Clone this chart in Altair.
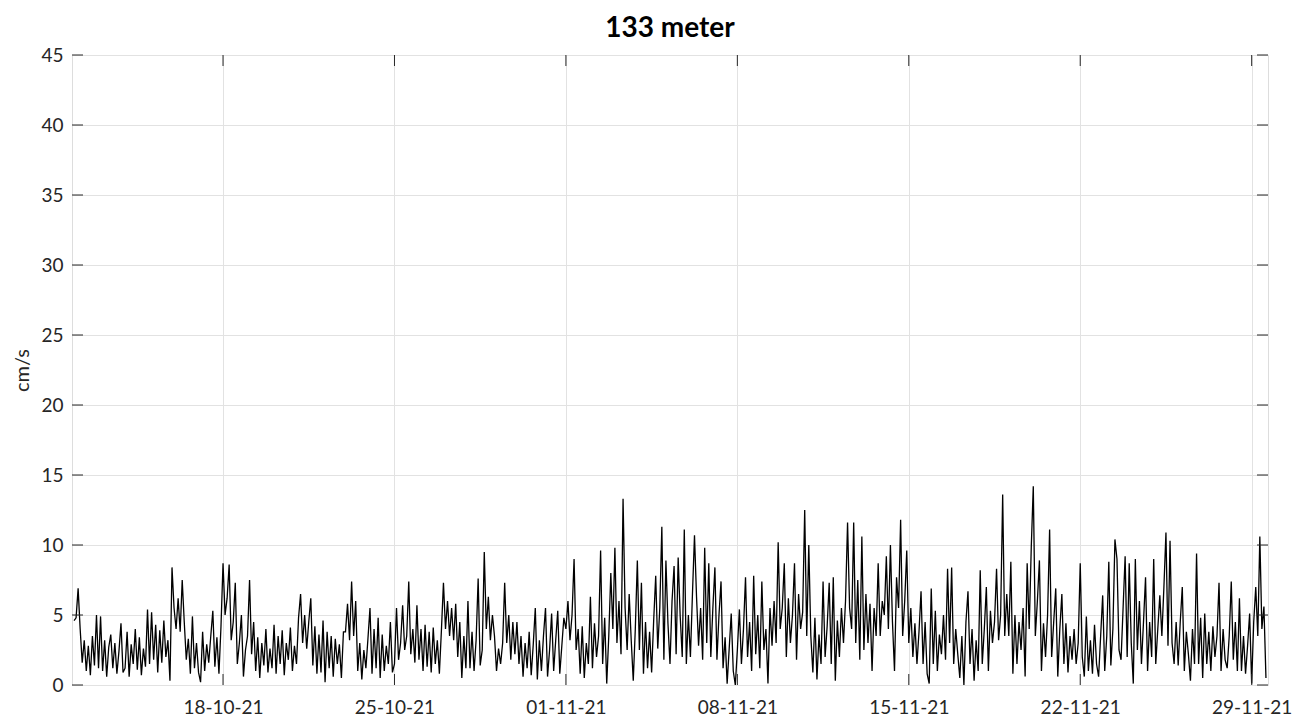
import altair as alt
import pandas as pd

TITLE = "133 meter"
Y_LABEL = "cm/s"
STEP_HOURS = 2
Y_TICKS = [0, 5, 10, 15, 20, 25, 30, 35, 40, 45]
X_TICKS = ["2021-10-18T00:00:00", "2021-10-25T00:00:00", "2021-11-01T00:00:00",
           "2021-11-08T00:00:00", "2021-11-15T00:00:00", "2021-11-22T00:00:00",
           "2021-11-29T00:00:00"]

# current speed (cm/s), 2-hourly readings (00h, 02h, ... 22h)
first_day = "2021-10-11"
day0 = [None] * 11 + [4.6]
week1 = [
    [4.8, 6.9, 4.0, 1.6, 3.2, 1.0, 2.8, 0.7, 3.5, 1.4, 5.0, 1.2],   # 12-10
    [4.9, 1.0, 3.2, 0.6, 2.7, 3.6, 1.2, 3.0, 0.8, 2.4, 4.4, 0.9],   # 13-10
    [1.2, 3.8, 0.6, 2.9, 1.5, 4.0, 1.1, 3.4, 0.7, 2.6, 1.3, 5.4],   # 14-10
    [1.5, 5.2, 1.8, 4.3, 0.9, 3.9, 1.6, 4.6, 2.0, 3.2, 0.3, 8.4],   # 15-10
    [5.5, 4.0, 6.2, 3.8, 7.5, 4.5, 1.8, 3.3, 0.8, 4.9, 1.2, 3.0],   # 16-10
    [0.9, 0.2, 3.8, 1.0, 2.9, 1.6, 3.5, 5.3, 1.3, 3.4, 0.8, 4.2],   # 17-10
]
week2 = [
    [8.7, 5.0, 6.2, 8.6, 3.2, 4.5, 7.3, 1.5, 3.0, 5.0, 0.6, 2.5],   # 18-10
    [3.5, 7.5, 2.2, 4.5, 1.0, 3.4, 0.5, 3.0, 1.4, 4.0, 0.9, 2.6],   # 19-10
    [1.2, 4.3, 0.8, 3.5, 1.5, 3.9, 0.7, 3.0, 1.8, 4.1, 1.0, 2.8],   # 20-10
    [1.5, 4.8, 6.5, 3.0, 5.0, 2.6, 4.5, 6.2, 1.4, 4.2, 0.8, 3.6],   # 21-10
    [0.9, 4.6, 0.2, 3.8, 1.2, 3.5, 0.6, 3.3, 1.5, 2.9, 0.5, 3.8],   # 22-10
    [3.8, 5.8, 3.2, 7.4, 3.5, 6.0, 1.0, 3.0, 0.4, 2.5, 1.2, 3.3],   # 23-10
    [5.5, 0.8, 4.0, 1.2, 4.8, 0.5, 3.6, 1.0, 2.8, 1.5, 4.5, 0.9],   # 24-10
]
week3 = [
    [1.5, 5.5, 1.8, 3.0, 5.7, 2.5, 3.5, 7.4, 2.2, 4.0, 1.6, 5.7],   # 25-10
    [1.8, 4.0, 1.0, 4.3, 1.3, 3.8, 0.9, 4.1, 1.5, 3.2, 0.8, 3.9],   # 26-10
    [7.3, 4.0, 6.0, 3.5, 5.5, 3.2, 5.8, 2.0, 4.5, 0.5, 3.5, 1.2],   # 27-10
    [6.0, 1.2, 3.8, 1.0, 3.2, 7.6, 1.4, 2.5, 9.5, 4.0, 6.3, 3.2],   # 28-10
    [5.0, 3.5, 1.0, 2.6, 1.5, 3.0, 7.3, 3.0, 5.0, 1.8, 4.5, 2.2],   # 29-10
    [4.5, 1.5, 3.5, 0.6, 3.0, 1.2, 3.8, 0.7, 2.9, 5.5, 0.4, 3.2],   # 30-10
    [1.0, 3.5, 5.5, 0.6, 2.5, 5.1, 1.0, 3.2, 5.3, 0.8, 2.8, 4.8],   # 31-10
]
week4 = [
    [4.0, 6.0, 3.2, 5.0, 9.0, 2.5, 4.0, 0.8, 4.2, 0.5, 3.0, 1.5],   # 01-11
    [6.3, 1.2, 4.4, 2.0, 3.5, 9.6, 1.5, 4.8, 0.1, 3.5, 8.0, 4.0],   # 02-11
    [9.8, 3.0, 6.0, 2.2, 13.3, 5.5, 2.5, 6.5, 3.2, 0.3, 4.0, 8.9],  # 03-11
    [2.5, 7.3, 0.8, 4.5, 1.2, 3.8, 0.9, 4.6, 7.8, 2.6, 5.5, 11.3],  # 04-11
    [1.8, 8.9, 4.4, 1.5, 6.0, 8.5, 2.2, 9.1, 4.9, 2.0, 11.1, 1.5],  # 05-11
    [5.0, 2.0, 6.5, 10.7, 6.3, 2.8, 5.5, 1.8, 9.8, 3.0, 8.7, 2.0],  # 06-11
    [5.5, 8.4, 1.8, 5.0, 7.4, 1.2, 3.4, 0.1, 2.6, 5.1, 1.0, 0.0],   # 07-11
]
week5 = [
    [2.5, 5.4, 1.5, 4.0, 7.7, 2.0, 4.5, 1.0, 7.8, 2.2, 5.0, 1.2],   # 08-11
    [7.4, 2.5, 4.0, 0.1, 5.5, 2.8, 6.0, 3.0, 10.2, 4.0, 5.5, 8.7],  # 09-11
    [2.0, 6.2, 3.0, 5.0, 8.7, 1.8, 6.5, 4.0, 5.2, 12.5, 3.5, 10.0], # 10-11
    [3.5, 0.9, 4.8, 0.4, 3.6, 1.5, 7.4, 2.0, 4.2, 7.3, 1.5, 7.7],   # 11-11
    [0.3, 4.6, 2.0, 5.5, 3.0, 6.0, 11.6, 5.5, 4.0, 11.6, 3.0, 7.5], # 12-11
    [1.8, 10.6, 2.5, 6.5, 3.0, 5.8, 1.0, 5.5, 3.5, 8.7, 3.5, 6.0],  # 13-11
    [5.0, 9.2, 4.0, 10.0, 4.5, 1.0, 7.7, 5.5, 11.8, 3.5, 6.0, 9.6], # 14-11
]
week6 = [
    [3.0, 5.5, 2.0, 4.4, 1.5, 3.8, 6.7, 1.5, 4.5, 0.8, 0.1, 6.9],   # 15-11
    [1.5, 5.3, 1.0, 3.6, 2.2, 5.0, 1.8, 8.3, 3.0, 8.4, 1.5, 4.0],   # 16-11
    [2.2, 0.5, 3.5, 0.0, 4.5, 6.7, 1.5, 4.0, 0.3, 3.2, 1.0, 8.2],   # 17-11
    [1.5, 4.0, 7.0, 1.0, 5.3, 3.0, 4.5, 8.3, 3.2, 5.0, 13.6, 3.5],  # 18-11
    [6.5, 3.5, 8.8, 0.8, 5.0, 1.5, 4.5, 2.5, 5.5, 0.6, 8.7, 4.0],   # 19-11
    [9.8, 14.2, 3.5, 6.0, 8.9, 1.0, 4.4, 2.0, 5.0, 11.1, 2.0, 4.5], # 20-11
    [6.9, 0.6, 4.0, 6.5, 1.5, 4.4, 0.9, 3.5, 1.8, 4.0, 1.5, 3.0],   # 21-11
]
week7 = [
    [8.7, 2.0, 0.6, 4.9, 1.0, 3.2, 0.8, 4.3, 1.5, 0.6, 3.5, 6.4],   # 22-11
    [1.0, 3.5, 8.8, 1.4, 4.0, 10.4, 9.0, 2.5, 1.8, 5.5, 9.2, 2.0],  # 23-11
    [8.7, 3.0, 0.1, 9.0, 2.5, 6.0, 1.5, 4.5, 7.7, 1.0, 4.5, 2.0],   # 24-11
    [9.0, 1.5, 4.0, 6.4, 3.5, 7.0, 10.9, 2.8, 10.3, 3.0, 1.5, 4.5], # 25-11
    [1.4, 4.5, 7.0, 1.0, 3.8, 2.2, 0.3, 4.0, 1.5, 9.4, 1.5, 4.8],   # 26-11
    [0.5, 5.1, 1.5, 3.8, 1.0, 4.2, 2.0, 3.5, 7.3, 1.0, 4.0, 1.8],   # 27-11
    [1.2, 3.5, 7.4, 1.8, 4.5, 1.0, 6.2, 1.0, 3.5, 0.8, 2.8, 5.1],   # 28-11
]
last_day = [0.1, 4.5, 7.0, 3.5, 10.6, 4.0, 5.6, 0.5]               # 29-11

days = [day0] + week1 + week2 + week3 + week4 + week5 + week6 + week7 + [last_day]
rows = []
base = pd.Timestamp(first_day)
for d, vals in enumerate(days):
    for i, v in enumerate(vals):
        if v is None:
            continue
        ts = base + pd.Timedelta(days=d, hours=STEP_HOURS * i)
        rows.append({"t": ts.strftime("%Y-%m-%dT%H:%M:%S"), "v": v})
df = pd.DataFrame(rows)
xt_df = pd.DataFrame({"t": X_TICKS})
yt_df = pd.DataFrame({"v": Y_TICKS})

W, H = 1196, 630
TICK = 11
GRID = "#e2e2e2"
AXC = "#262626"

x_scale = alt.Scale(domain=[alt.DateTime(year=2021, month=10, date=11, hours=20),
                            alt.DateTime(year=2021, month=11, date=29, hours=16)])
y_scale = alt.Scale(domain=[0, 45], nice=False, zero=True)

x_axis = alt.Axis(
    values=[alt.DateTime(year=2021, month=int(s[5:7]), date=int(s[8:10])) for s in X_TICKS],
    format="%d-%m-%y", title=None, grid=True, gridColor=GRID, ticks=False, tickSize=0,
    domain=False, labelPadding=13, labelFont="Lato", labelFontSize=19, labelColor=AXC,
)
y_axis = alt.Axis(
    values=Y_TICKS, title=Y_LABEL, grid=True, gridColor=GRID, ticks=False, tickSize=0,
    domain=False, labelPadding=9, labelFont="Lato", labelFontSize=19, labelColor=AXC,
    titleFont="Lato", titleFontSize=20, titleFontWeight="normal", titleColor=AXC,
    titleX=-44, titleY=H / 2, titleAngle=270, titleBaseline="alphabetic", titleAlign="center",
)

line = alt.Chart(df).mark_line(color="black", strokeWidth=1.3, clip=True).encode(
    x=alt.X("t:T", scale=x_scale, axis=x_axis),
    y=alt.Y("v:Q", scale=y_scale, axis=y_axis),
)

xt_bottom = alt.Chart(xt_df).mark_rule(color=AXC, strokeWidth=1).encode(
    x=alt.X("t:T"), y=alt.value(H), y2=alt.value(H - TICK))
xt_top = alt.Chart(xt_df).mark_rule(color=AXC, strokeWidth=1).encode(
    x=alt.X("t:T"), y=alt.value(0), y2=alt.value(TICK))
yt_left = alt.Chart(yt_df).mark_rule(color=AXC, strokeWidth=1).encode(
    y=alt.Y("v:Q"), x=alt.value(0), x2=alt.value(TICK))
yt_right = alt.Chart(yt_df).mark_rule(color=AXC, strokeWidth=1).encode(
    y=alt.Y("v:Q"), x=alt.value(W), x2=alt.value(W - TICK))

chart = alt.layer(line, xt_bottom, xt_top, yt_left, yt_right).properties(
    width=W, height=H,
    title=alt.TitleParams(TITLE, font="Lato", fontSize=28, fontWeight="bold", color="black",
                          anchor="middle", offset=3),
    autosize=alt.AutoSizeParams(type="none"),
    padding={"left": 72, "top": 55, "right": 38, "bottom": 33},
).configure_view(stroke="#555555", strokeWidth=1.2).configure(background="white")

chart.save("out.html", embed_options={"renderer": "svg", "actions": False})
